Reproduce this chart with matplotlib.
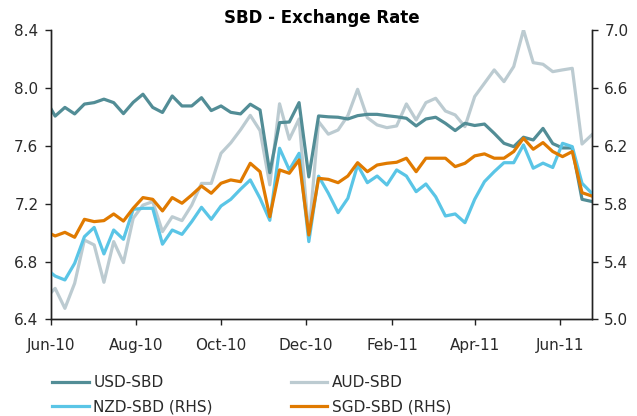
import matplotlib
matplotlib.use("Agg")
import matplotlib.pyplot as plt
import matplotlib.dates as mdates
import pandas as pd

# first point is 1 Jun 2010, then weekly Fridays to 24 Jun 2011
dates = [pd.Timestamp("2010-06-01")] + list(pd.date_range("2010-06-04", "2011-06-24", freq="7D"))

usd = [7.855, 7.805, 7.865, 7.82, 7.888, 7.898, 7.922, 7.898, 7.822, 7.90,
       7.956, 7.865, 7.83, 7.944, 7.875, 7.875, 7.932, 7.843, 7.875, 7.831,
       7.82, 7.887, 7.847, 7.414, 7.76, 7.764, 7.898, 7.385, 7.806, 7.80,
       7.797, 7.785, 7.808, 7.817, 7.817, 7.808, 7.80, 7.79, 7.737, 7.785,
       7.797, 7.755, 7.705, 7.755, 7.74, 7.75, 7.686, 7.617, 7.594, 7.659,
       7.64, 7.72, 7.615, 7.585, 7.585, 7.23, 7.215]

aud = [6.585, 6.615, 6.477, 6.65, 6.949, 6.915, 6.657, 6.938, 6.793, 7.099,
       7.19, 7.214, 7.007, 7.11, 7.083, 7.19, 7.34, 7.34, 7.548, 7.62,
       7.71, 7.81, 7.705, 7.33, 7.89, 7.645, 7.785, 6.98, 7.767, 7.68,
       7.709, 7.808, 7.99, 7.794, 7.744, 7.725, 7.737, 7.889, 7.778, 7.898,
       7.928, 7.84, 7.813, 7.732, 7.94, 8.032, 8.124, 8.043, 8.147, 8.40,
       8.174, 8.163, 8.112, 8.124, 8.135, 7.612, 7.675]

nzd = [5.323, 5.30, 5.273, 5.388, 5.572, 5.636, 5.453, 5.618, 5.554, 5.761,
       5.768, 5.768, 5.52, 5.618, 5.588, 5.676, 5.775, 5.692, 5.784, 5.83,
       5.90, 5.964, 5.837, 5.685, 6.183, 6.033, 6.148, 5.538, 5.99, 5.872,
       5.738, 5.837, 6.067, 5.945, 5.991, 5.929, 6.033, 5.991, 5.883, 5.936,
       5.848, 5.715, 5.729, 5.669, 5.83, 5.952, 6.021, 6.083, 6.083, 6.206,
       6.045, 6.08, 6.05, 6.217, 6.194, 5.941, 5.872]

sgd = [5.591, 5.577, 5.602, 5.568, 5.692, 5.676, 5.683, 5.729, 5.68, 5.768,
       5.842, 5.83, 5.75, 5.842, 5.803, 5.86, 5.922, 5.872, 5.941, 5.964,
       5.952, 6.079, 6.021, 5.71, 6.033, 6.01, 6.102, 5.584, 5.975, 5.968,
       5.945, 5.991, 6.083, 6.021, 6.067, 6.079, 6.086, 6.114, 6.021, 6.114,
       6.114, 6.114, 6.056, 6.079, 6.13, 6.144, 6.114, 6.114, 6.16, 6.252,
       6.176, 6.222, 6.16, 6.125, 6.16, 5.876, 5.853]

tick_dates = pd.to_datetime(["2010-06-01", "2010-08-01", "2010-10-01", "2010-12-01",
                             "2011-02-01", "2011-04-01", "2011-06-01"])

c_usd = "#528d96"
c_aud = "#bccbd1"
c_nzd = "#5ac5e6"
c_sgd = "#e07a00"

fig = plt.figure(figsize=(6.37, 4.16), dpi=100)
ax = fig.add_axes([0.080, 0.232, 0.849, 0.696])
ax2 = ax.twinx()

l_aud, = ax.plot(dates, aud, color=c_aud, lw=2.3, label="AUD-SBD")
l_usd, = ax.plot(dates, usd, color=c_usd, lw=2.3, label="USD-SBD")
l_nzd, = ax2.plot(dates, nzd, color=c_nzd, lw=2.3, label="NZD-SBD (RHS)")
l_sgd, = ax2.plot(dates, sgd, color=c_sgd, lw=2.3, label="SGD-SBD (RHS)")

ax.set_ylim(6.4, 8.4)
ax2.set_ylim(5.0, 7.0)
ax.set_yticks([6.4, 6.8, 7.2, 7.6, 8.0, 8.4])
ax2.set_yticks([5.0, 5.4, 5.8, 6.2, 6.6, 7.0])
ax.yaxis.set_major_formatter(plt.FormatStrFormatter("%.1f"))
ax2.yaxis.set_major_formatter(plt.FormatStrFormatter("%.1f"))
ax.set_xlim(pd.Timestamp("2010-06-01"), pd.Timestamp("2011-06-24"))
ax.set_xticks(tick_dates)
ax.xaxis.set_major_formatter(mdates.DateFormatter("%b-%y"))

for a in (ax, ax2):
    a.spines["top"].set_visible(False)
    for s in a.spines.values():
        s.set_linewidth(1.0)
        s.set_color("#222222")
    a.tick_params(labelsize=11, length=4, width=1, colors="#222222",
                  labelcolor="#2a2a2a", pad=5)
ax.tick_params(axis="x", pad=9)

ax.set_title("SBD - Exchange Rate", fontsize=12, fontweight="bold", pad=5)

fig.legend([l_usd, l_nzd, l_aud, l_sgd],
           ["USD-SBD", "NZD-SBD (RHS)", "AUD-SBD", "SGD-SBD (RHS)"],
           ncol=2, loc="upper left", bbox_to_anchor=(0.072, 0.113),
           frameon=False, fontsize=11, handlelength=2.4, handletextpad=0.3,
           columnspacing=5.1, labelspacing=0.62, borderaxespad=0,
           labelcolor="#2a2a2a")

fig.savefig("out.png", dpi=100)
